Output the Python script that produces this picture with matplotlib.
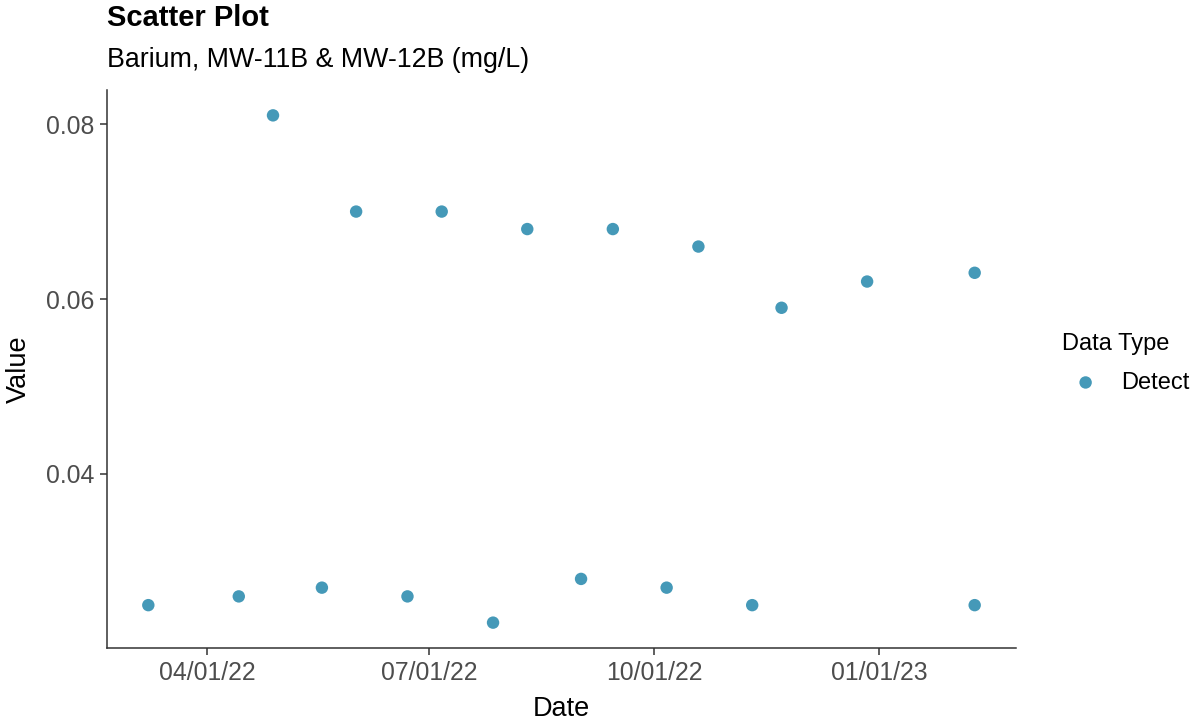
import matplotlib
matplotlib.use("Agg")
import matplotlib.pyplot as plt
import matplotlib.dates as mdates
import numpy as np
import pandas as pd

plt.rcParams["font.family"] = ["Liberation Sans", "DejaVu Sans"]

# sample dates and values
dates = pd.to_datetime([
    "2022-03-08", "2022-04-14", "2022-05-18", "2022-06-22", "2022-07-27",
    "2022-09-01", "2022-10-06", "2022-11-10", "2023-02-09",
    "2022-04-28", "2022-06-01", "2022-07-06", "2022-08-10", "2022-09-14",
    "2022-10-19", "2022-11-22", "2022-12-27", "2023-02-09",
])
values = [
    0.025, 0.026, 0.027, 0.026, 0.023, 0.028, 0.027, 0.025, 0.025,
    0.081, 0.070, 0.070, 0.068, 0.068, 0.066, 0.059, 0.062, 0.063,
]
tick_dates = pd.to_datetime(["2022-04-01", "2022-07-01", "2022-10-01", "2023-01-01"])
y_ticks = [0.04, 0.06, 0.08]

color = "#4599B8"

fig = plt.figure(figsize=(11.97, 7.23), dpi=100)
ax = fig.add_axes([107 / 1197, 75 / 723, 909 / 1197, 558 / 723])

ax.scatter(dates, values, s=80, color=color, edgecolors="none", label="Detect", zorder=3)

# ggplot style 5% expansion
xn = mdates.date2num(dates)
xr = xn.max() - xn.min()
ax.set_xlim(xn.min() - 0.05 * xr, xn.max() + 0.05 * xr)
yr = max(values) - min(values)
ax.set_ylim(min(values) - 0.05 * yr, max(values) + 0.05 * yr)

ax.set_xticks(tick_dates)
ax.xaxis.set_major_formatter(mdates.DateFormatter("%m/%d/%y"))
ax.set_yticks(y_ticks)
ax.set_yticklabels([f"{v:.2f}" for v in y_ticks])

for side in ["top", "right"]:
    ax.spines[side].set_visible(False)
for side in ["left", "bottom"]:
    ax.spines[side].set_color("#333333")
    ax.spines[side].set_linewidth(1.1)
ax.tick_params(colors="#333333", labelcolor="#4d4d4d", labelsize=17.8, length=5, width=1.1, pad=4)

ax.set_xlabel("Date", fontsize=19.5, labelpad=8)
ax.set_ylabel("Value", fontsize=19.5, labelpad=10)

fig.text(107 / 1197, 1 - 18 / 723, "Scatter Plot", fontsize=21, fontweight="bold", va="center")
fig.text(107 / 1197, 1 - 60 / 723, "Barium, MW-11B & MW-12B (mg/L)", fontsize=19.3, va="center")

leg = fig.legend(loc="upper left", bbox_to_anchor=(1062 / 1197, 1 - 333 / 723),
                 title="Data Type", frameon=False, fontsize=17, title_fontsize=17,
                 handletextpad=0.5, markerscale=1.0, alignment="left", labelspacing=0.8,
                 borderpad=0, borderaxespad=0)
leg._legend_box.sep = 12

fig.savefig("out.png", dpi=100)
